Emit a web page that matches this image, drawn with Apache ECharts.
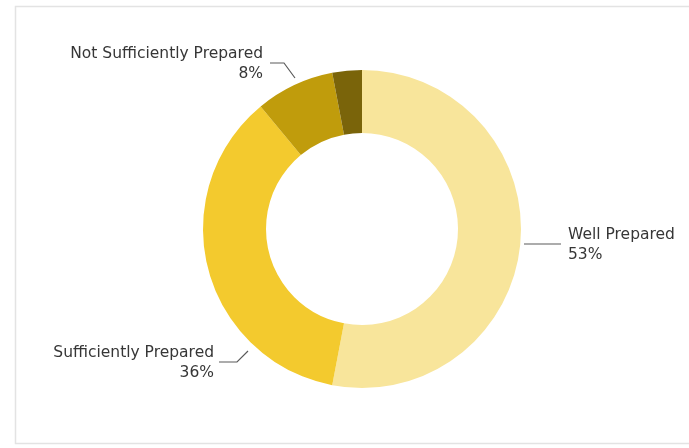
<!DOCTYPE html>
<html>
<head>
<meta charset="utf-8">
<script src="https://cdn.jsdelivr.net/npm/echarts@6/dist/echarts.min.js"></script>
<style>
  html, body { margin: 0; padding: 0; background: #ffffff; }
  #chart { width: 689px; height: 448px; }
</style>
</head>
<body>
<div id="chart"></div>
<script>
// Readiness share, clockwise from 12 o'clock
const categories = ['Well Prepared', 'Sufficiently Prepared', 'Not Sufficiently Prepared', 'Not Prepared'];
const shares = [53, 36, 8, 3];
const sliceColors = ['#F8E59B', '#F3CA2E', '#C09C0C', '#7A640A'];
const showLabel = [true, true, true, false];

// Callout placement for each visible label: text anchor and leader polyline
const callouts = [
  { x: 568, y: 245, align: 'left',  line: [[524, 244], [561, 244]] },
  { x: 214, y: 363, align: 'right', line: [[248, 351], [237, 362], [219, 362]] },
  { x: 263, y: 64,  align: 'right', line: [[295, 78], [284, 63], [270, 63]] },
  null
];

const chart = echarts.init(document.getElementById('chart'), null, { renderer: 'canvas' });

const pieData = categories.map((name, i) => ({
  name: name,
  value: shares[i],
  itemStyle: { color: sliceColors[i] },
  label: { show: showLabel[i] },
  labelLine: { show: showLabel[i] }
}));

chart.setOption({
  animation: false,
  backgroundColor: '#ffffff',
  graphic: [{
    type: 'rect',
    shape: { x: 15.5, y: 6.5, width: 680, height: 437 },
    style: { fill: 'none', stroke: '#e3e3e3', lineWidth: 1.5 },
    silent: true,
    z: -10
  }],
  series: [{
    type: 'pie',
    center: [362, 229],
    radius: [96, 159],
    startAngle: 90,
    clockwise: true,
    avoidLabelOverlap: false,
    data: pieData,
    itemStyle: { borderWidth: 0 },
    label: {
      show: true,
      position: 'outside',
      formatter: '{b}\n{d}%',
      color: '#363636',
      fontFamily: '"DejaVu Sans", sans-serif',
      fontSize: 15.5,
      lineHeight: 20
    },
    labelLine: {
      show: true,
      length: 10,
      length2: 30,
      smooth: false,
      lineStyle: { color: '#5a5a5a', width: 1.2 }
    },
    labelLayout: function (params) {
      const c = callouts[params.dataIndex];
      if (!c) return {};
      return {
        x: c.x,
        y: c.y,
        align: c.align,
        verticalAlign: 'middle',
        labelLinePoints: c.line
      };
    }
  }]
});
</script>
</body>
</html>
